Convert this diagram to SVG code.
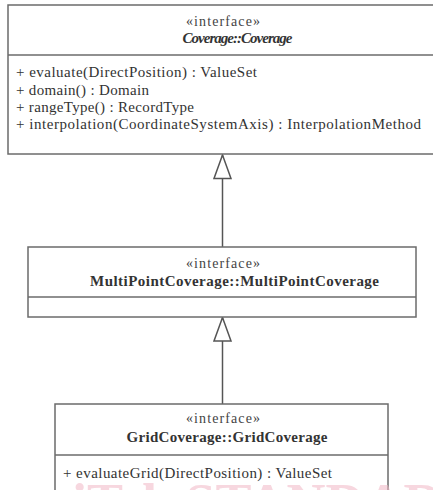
<svg xmlns="http://www.w3.org/2000/svg" width="433" height="490" viewBox="0 0 433 490">
  <style>
    .box { fill: #ffffff; stroke: #6b6b6b; stroke-width: 1.5; }
    .sep { stroke: #6b6b6b; stroke-width: 1.5; }
    .link { stroke: #555555; stroke-width: 1.5; fill: none; }
    text { font-family: "Liberation Serif", "Times New Roman", serif; fill: #333333; font-size: 15px; }
    .st { text-anchor: middle; font-size: 14px; fill: #444444; }
    .nm { text-anchor: middle; font-weight: bold; }
    .it { font-style: italic; }
    .mark { font-family: "Liberation Serif", serif; font-weight: bold; font-size: 54px; fill: #f2b8c6; opacity: 0.55; }
  </style>
  <defs>
    <!-- hollow triangle head for generalization -->
    <marker id="gen" viewBox="0 0 26 20" refX="25" refY="10" markerWidth="26" markerHeight="20" markerUnits="userSpaceOnUse" orient="auto">
      <path d="M25 10 L1.5 1.5 L1.5 18.5 Z" fill="#ffffff" stroke="#555555" stroke-width="1.5"/>
    </marker>
  </defs>

  <!-- generalization connectors -->
  <g id="connectors">
    <line class="link" x1="222.5" y1="247" x2="222.5" y2="155" marker-end="url(#gen)"/>
    <line class="link" x1="222.5" y1="404" x2="222.5" y2="317.5" marker-end="url(#gen)"/>
  </g>

  <g id="coverage">
    <rect class="box" x="8" y="5" width="430" height="149"/>
    <line class="sep" x1="8" y1="55" x2="438" y2="55"/>
    <text class="st" x="223" y="26" textLength="74">«interface»</text>
    <text class="nm it" x="237.5" y="43" textLength="110">Coverage::Coverage</text>
    <text x="16" y="77" textLength="241">+ evaluate(DirectPosition) : ValueSet</text>
    <text x="16" y="95" textLength="133">+ domain() : Domain</text>
    <text x="16" y="112" textLength="178">+ rangeType() : RecordType</text>
    <text x="16" y="129" textLength="405">+ interpolation(CoordinateSystemAxis) : InterpolationMethod</text>
  </g>

  <g id="multipoint">
    <rect class="box" x="28" y="247" width="388" height="70"/>
    <line class="sep" x1="28" y1="297" x2="416" y2="297"/>
    <text class="st" x="223" y="268" textLength="74">«interface»</text>
    <text class="nm" x="234.5" y="286" textLength="289">MultiPointCoverage::MultiPointCoverage</text>
  </g>

  <g id="grid">
    <rect class="box" x="55" y="404" width="333" height="100"/>
    <line class="sep" x1="55" y1="455" x2="388" y2="455"/>
    <text class="st" x="223" y="423" textLength="74">«interface»</text>
    <text class="nm" x="227" y="442" textLength="201">GridCoverage::GridCoverage</text>
    <text x="63" y="478" textLength="269">+ evaluateGrid(DirectPosition) : ValueSet</text>
  </g>

  <!-- faint stamp across the lower edge -->
  <text class="mark" x="72" y="521">iTeh STANDARDS</text>
</svg>
